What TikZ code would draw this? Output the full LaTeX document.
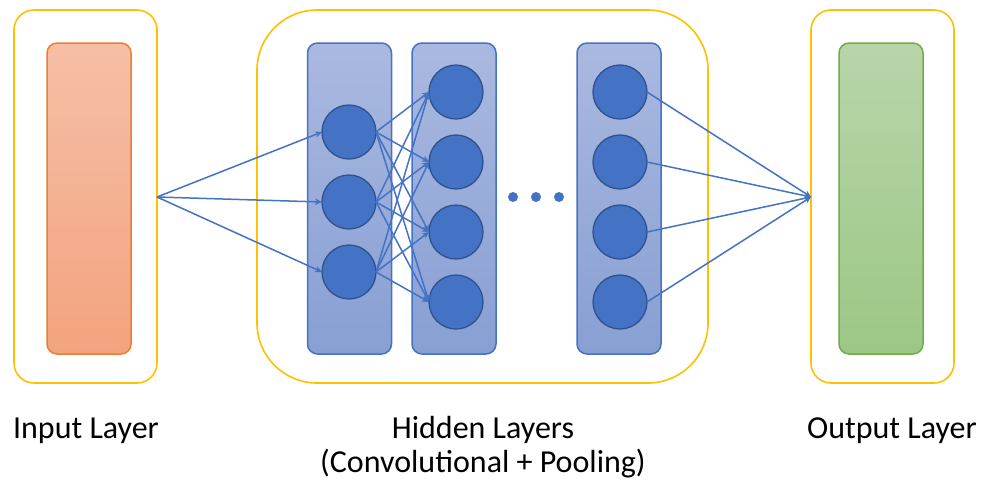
\documentclass[tikz,border=0pt]{standalone}
\usepackage{fontspec}
\setmainfont{Carlito}
\usetikzlibrary{arrows.meta}
\definecolor{frameY}{HTML}{FFC000}
\definecolor{netblue}{HTML}{4472C4}
\definecolor{netdark}{HTML}{2F528F}
\definecolor{inEdge}{HTML}{ED7D31}
\definecolor{inTop}{HTML}{F5BFA6}
\definecolor{inBot}{HTML}{F3A37F}
\definecolor{outEdge}{HTML}{70AD47}
\definecolor{outTop}{HTML}{B8D5AA}
\definecolor{outBot}{HTML}{9CC785}
\definecolor{colTop}{HTML}{AAB9E0}
\definecolor{colBot}{HTML}{889FD3}
\tikzset{
  frame/.style={draw=frameY, line width=1.6pt, inner sep=0pt, outer sep=0pt,
    minimum height=373pt},
  slab/.style={line width=1.5pt, inner sep=0pt, outer sep=0pt,
    minimum width=84pt, minimum height=311pt, rounded corners=10pt},
  inslab/.style={slab, draw=inEdge, top color=inTop, bottom color=inBot},
  outslab/.style={slab, draw=outEdge, top color=outTop, bottom color=outBot},
  colslab/.style={slab, draw=netblue, top color=colTop, bottom color=colBot},
  neuron/.style={circle, draw=netdark, line width=1.3pt, fill=netblue,
    minimum size=54pt, inner sep=0pt, outer sep=0pt},
  dotmark/.style={circle, fill=netblue, minimum size=10pt, inner sep=0pt},
  link/.style={draw=netblue, line width=1.5pt,
    -{Stealth[length=7pt,width=6.5pt]}},
  caption/.style={font=\fontsize{32}{35}\selectfont, anchor=base, inner sep=0pt}
}
\begin{document}
\begin{tikzpicture}[x=1pt,y=-1pt]
  \useasboundingbox (0,0) rectangle (982,485);

  % outer frames
  \node[frame, minimum width=143pt, rounded corners=20pt] (inframe) at (85.5,196.5) {};
  \node[frame, minimum width=451pt, rounded corners=60pt] (hidframe) at (482.5,196.5) {};
  \node[frame, minimum width=143pt, rounded corners=20pt] (outframe) at (882.5,196.5) {};

  % input and output layers
  \node[inslab] (inlayer) at (89,198.5) {};
  \node[outslab] (outlayer) at (881,198.5) {};

  % hidden columns
  \node[colslab] (colA) at (349.5,198.5) {};
  \node[colslab] (colB) at (454,198.5) {};
  \node[colslab] (colC) at (619,198.5) {};

  % neurons
  \foreach \i/\y in {1/132,2/202,3/272}
    \node[neuron] (a\i) at (349,\y) {};
  \foreach \i/\y in {1/92,2/162,3/232,4/302}{
    \node[neuron] (b\i) at (456,\y) {};
    \node[neuron] (c\i) at (620,\y) {};
  }

  % ellipsis dots
  \node[dotmark] (d1) at (513,197) {};
  \node[dotmark] (d2) at (536,197) {};
  \node[dotmark] (d3) at (559,197) {};

  % connection points
  \coordinate (src) at (157,197);
  \coordinate (dst) at (811,197);

  % connections
  \foreach \i in {1,2,3}
    \draw[link] (src) -- (a\i.west);
  \foreach \i in {1,2,3}
    \foreach \j in {1,2,3,4}
      \draw[link] (a\i.east) -- (b\j.west);
  \foreach \j in {1,2,3,4}
    \draw[link] (c\j.east) -- (dst);

  % captions
  \node[caption] (capIn) at (86,438) {Input Layer};
  \node[caption] (capHid) at (483,438) {Hidden Layers};
  \node[caption] (capSub) at (483,472) {(Convolutional + Pooling)};
  \node[caption] (capOut) at (892,438) {Output Layer};
\end{tikzpicture}
\end{document}
